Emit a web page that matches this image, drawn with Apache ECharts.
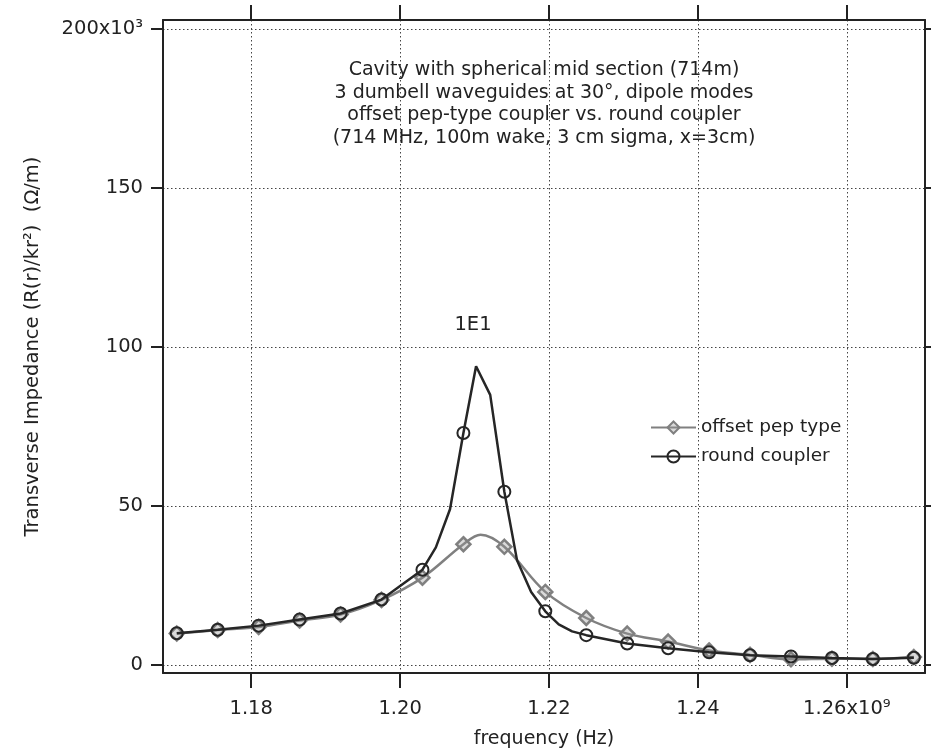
<!DOCTYPE html>
<html>
<head>
<meta charset="utf-8">
<script src="https://cdn.jsdelivr.net/npm/echarts@6/dist/echarts.min.js"></script>
<style>
html, body { margin: 0; padding: 0; background: #fff; }
#chart { width: 935px; height: 754px; }
</style>
</head>
<body>
<div id="chart"></div>
<script>
// frequency in units of 1e9 Hz, impedance in units of 1e3 Ohm/m
const markerFreq = [1.1700, 1.1755, 1.1810, 1.1865, 1.1920, 1.1975, 1.2030, 1.2085, 1.2140, 1.2195,
    1.2250, 1.2305, 1.2360, 1.2415, 1.2470, 1.2525, 1.2580, 1.2635, 1.2690];

const offsetFreq = [1.1700, 1.1755, 1.1810, 1.1865, 1.1920, 1.1975, 1.2030, 1.2085, 1.2108, 1.2140,
    1.2195, 1.2250, 1.2305, 1.2360, 1.2415, 1.2470, 1.2525, 1.2580, 1.2635, 1.2690];
const offsetVal = [9.9, 11.0, 12.0, 14.0, 15.9, 20.5, 27.5, 38.0, 41.0, 37.2,
    23.0, 14.8, 9.9, 7.4, 4.6, 3.2, 1.8, 2.0, 1.9, 2.5];

const roundFreq = [1.1700, 1.1755, 1.1810, 1.1865, 1.1920, 1.1975, 1.2030, 1.2048, 1.2067, 1.2085,
    1.2102, 1.2121, 1.2140, 1.2157, 1.2176, 1.2195, 1.2213, 1.2231, 1.2250, 1.2305,
    1.2360, 1.2415, 1.2470, 1.2525, 1.2580, 1.2635, 1.2690];
const roundVal = [10.0, 11.1, 12.4, 14.3, 16.2, 20.6, 30.0, 37.0, 49.0, 73.0,
    94.0, 85.0, 54.5, 33.0, 23.0, 16.9, 12.8, 10.6, 9.4, 6.8,
    5.3, 4.0, 3.1, 2.7, 2.2, 1.9, 2.3];

const xTicks = [1.18, 1.20, 1.22, 1.24, 1.26];
const xTickLabels = ['1.18', '1.20', '1.22', '1.24', '1.26x10⁹'];
const yTicks = [0, 50, 100, 150, 200];
const yTickLabels = ['0', '50', '100', '150', '200x10³'];

const noteLines = [
    'Cavity with spherical mid section (714m)',
    '3 dumbell waveguides at 30°, dipole modes',
    'offset pep-type coupler vs. round coupler',
    '(714 MHz, 100m wake, 3 cm sigma, x=3cm)'
];

const font = 'DejaVu Sans';
const ink = '#222';

function pick(ticks, labels, v) {
    let i = ticks.findIndex(t => Math.abs(t - v) < 1e-6);
    return i < 0 ? '' : labels[i];
}

function markSize(size) {
    return function (val) {
        return markerFreq.some(f => Math.abs(f - val[0]) < 1e-6) ? size : 0;
    };
}

let myChart = echarts.init(document.getElementById('chart'));

let gridLine = { show: true, lineStyle: { color: '#444', width: 1, type: [1.5, 2.5] } };

let option = {
    animation: false,
    backgroundColor: '#fff',
    textStyle: { fontFamily: font, color: ink },
    grid: { left: 163, right: 10, top: 20, bottom: 77 },
    legend: {
        data: ['offset pep type', 'round coupler'],
        orient: 'vertical',
        left: 645,
        top: 413,
        itemWidth: 45,
        itemHeight: 15,
        itemGap: 10,
        textStyle: { fontSize: 18.5, fontFamily: font, color: ink }
    },
    xAxis: [
        {
            type: 'value',
            position: 'bottom',
            min: 1.16815,
            max: 1.2705,
            name: 'frequency (Hz)',
            nameLocation: 'middle',
            nameGap: 57,
            nameTextStyle: { fontSize: 19, fontFamily: font, color: ink },
            axisLine: { show: true, onZero: false, lineStyle: { color: ink, width: 2 } },
            axisTick: { show: true, length: 15, customValues: xTicks, lineStyle: { color: ink, width: 2 } },
            axisLabel: {
                customValues: xTicks,
                margin: 26,
                fontSize: 19.5,
                color: ink,
                formatter: v => pick(xTicks, xTickLabels, v)
            },
            splitLine: gridLine
        },
        {
            type: 'value',
            position: 'top',
            min: 1.16815,
            max: 1.2705,
            axisLine: { show: true, onZero: false, lineStyle: { color: ink, width: 2 } },
            axisTick: { show: true, length: 15, customValues: xTicks, lineStyle: { color: ink, width: 2 } },
            axisLabel: { show: false },
            splitLine: { show: false }
        }
    ],
    yAxis: [
        {
            type: 'value',
            position: 'left',
            min: -2.5,
            max: 202.9,
            name: 'Transverse Impedance (R(r)/kr²)  (Ω/m)',
            nameLocation: 'middle',
            nameGap: 120,
            nameTextStyle: { fontSize: 19.5, fontFamily: font, color: ink },
            axisLine: { show: true, onZero: false, lineStyle: { color: ink, width: 2 } },
            axisTick: { show: true, length: 12, customValues: yTicks, lineStyle: { color: ink, width: 2 } },
            axisLabel: {
                customValues: yTicks,
                margin: 20,
                fontSize: 19.5,
                color: ink,
                formatter: v => pick(yTicks, yTickLabels, v)
            },
            splitLine: gridLine
        },
        {
            type: 'value',
            position: 'right',
            min: -2.5,
            max: 202.9,
            axisLine: { show: true, onZero: false, lineStyle: { color: ink, width: 2 } },
            axisTick: { show: true, length: 6, customValues: yTicks, lineStyle: { color: ink, width: 2 } },
            axisLabel: { show: false },
            splitLine: { show: false }
        }
    ],
    graphic: [
        {
            type: 'text',
            style: {
                text: noteLines.join('\n'),
                x: 544,
                y: 59,
                align: 'center',
                verticalAlign: 'top',
                font: '19px "DejaVu Sans"',
                lineHeight: 22.5,
                fill: ink
            }
        },
        {
            type: 'text',
            style: {
                text: '1E1',
                x: 473,
                y: 325,
                align: 'center',
                verticalAlign: 'middle',
                font: '19.5px "DejaVu Sans"',
                fill: ink
            }
        }
    ],
    series: [
        {
            name: 'offset pep type',
            type: 'line',
            smooth: 0.35,
            data: offsetFreq.map((f, i) => [f, offsetVal[i]]),
            symbol: 'diamond',
            symbolSize: markSize(14),
            showAllSymbol: true,
            lineStyle: { color: '#808080', width: 2.5 },
            itemStyle: { color: 'rgba(150,150,150,0.35)', borderColor: '#808080', borderWidth: 2.5 },
            z: 3
        },
        {
            name: 'round coupler',
            type: 'line',
            data: roundFreq.map((f, i) => [f, roundVal[i]]),
            symbol: 'circle',
            symbolSize: markSize(12),
            showAllSymbol: true,
            lineStyle: { color: '#262626', width: 2.5 },
            itemStyle: { color: 'rgba(255,255,255,0)', borderColor: '#262626', borderWidth: 2 },
            z: 4
        }
    ]
};

myChart.setOption(option);
</script>
</body>
</html>
